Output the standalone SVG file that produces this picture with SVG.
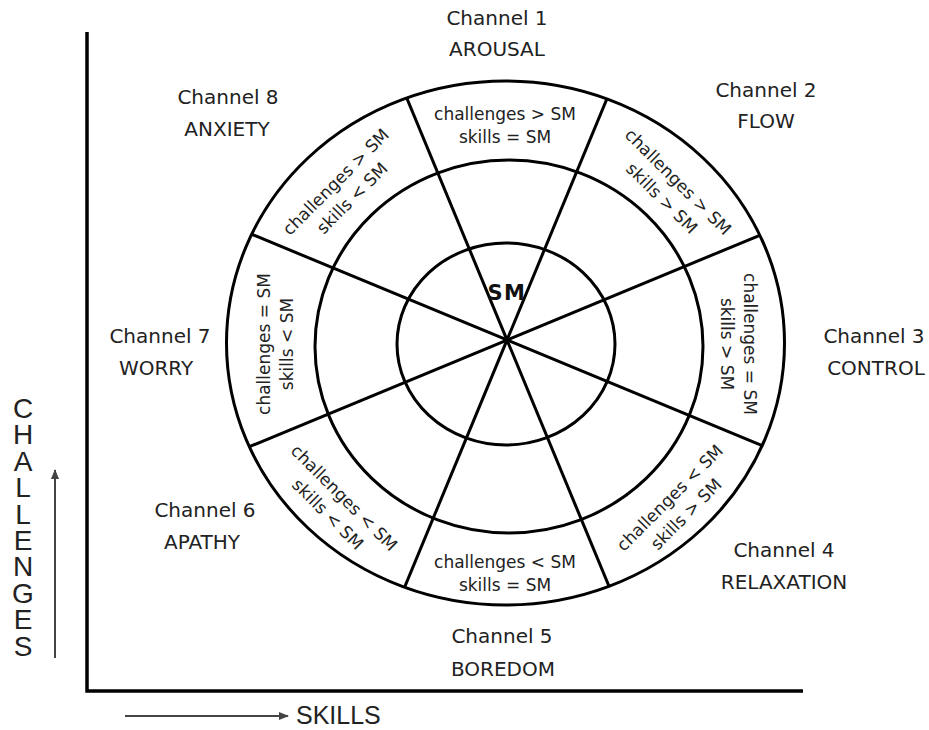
<svg xmlns="http://www.w3.org/2000/svg" width="929" height="730" viewBox="0 0 929 730">
  <style>
    .ring { fill: none; stroke: #000; stroke-width: 3; }
    .spoke { stroke: #000; stroke-width: 3; }
    .axis { fill: none; stroke: #000; stroke-width: 3.5; }
    .dir { stroke: #444; stroke-width: 2; fill: none; }
    .label { font-family: "DejaVu Sans", Verdana, sans-serif; font-size: 20px; fill: #222; text-anchor: middle; }
    .cond { font-family: "DejaVu Sans", Verdana, sans-serif; font-size: 17px; fill: #222; text-anchor: middle; }
    .axis-title { font-family: "Liberation Sans", Arial, sans-serif; fill: #222; }
    .hub { font-family: "DejaVu Sans", Verdana, sans-serif; font-size: 21px; font-weight: bold; fill: #111; text-anchor: middle; letter-spacing: 1.5px; }
  </style>
  <defs>
    <marker id="head" viewBox="0 0 10 10" refX="9" refY="5" markerWidth="5" markerHeight="5" orient="auto" markerUnits="strokeWidth">
      <path d="M0,1 L10,5 L0,9 z" fill="#444"/>
    </marker>
    <clipPath id="wheel-clip">
      <ellipse cx="505.5" cy="343" rx="279" ry="262"/>
    </clipPath>
  </defs>

  <rect width="929" height="730" fill="#fff"/>

  <!-- axes of the chart -->
  <g id="axes">
    <polyline class="axis" points="87,32 87,691 803,691"/>
    <text class="axis-title" font-size="28" text-anchor="middle" x="23 23 23 23 23 23 23 23 23 23" y="418 444.4 470.8 497.2 523.6 550 576.4 602.8 629.2 655.6">CHALLENGES</text>
    <text class="axis-title" font-size="25" x="296" y="724">SKILLS</text>
  </g>

  <!-- direction arrows beside the axis titles -->
  <g id="connectors">
    <line class="dir" x1="55" y1="658" x2="55" y2="470" marker-end="url(#head)"/>
    <line class="dir" x1="125" y1="716" x2="288" y2="716" marker-end="url(#head)"/>
  </g>

  <!-- the wheel: three rings and eight spokes -->
  <g id="wheel">
    <ellipse class="ring" cx="505.5" cy="343" rx="279" ry="262"/>
    <ellipse class="ring" cx="509" cy="346.5" rx="194" ry="186.5"/>
    <ellipse class="ring" cx="506" cy="344" rx="109" ry="101"/>
    <g clip-path="url(#wheel-clip)">
      <line class="spoke" x1="353.9" y1="709.6" x2="660.1" y2="-29.6"/>
      <line class="spoke" x1="137.4" y1="493.1" x2="876.6" y2="186.9"/>
      <line class="spoke" x1="137.4" y1="186.9" x2="876.6" y2="493.1"/>
      <line class="spoke" x1="353.9" y1="-29.6" x2="660.1" y2="709.6"/>
    </g>
  </g>

  <g id="hub">
    <text class="hub" x="507" y="300">SM</text>
  </g>

  <g id="channel-1">
    <text class="label" x="497" y="25">Channel 1</text>
    <text class="label" x="497" y="56">AROUSAL</text>
    <g transform="translate(505,120)">
      <text class="cond" x="0" y="0">challenges &gt; SM</text>
      <text class="cond" x="0" y="23">skills = SM</text>
    </g>
  </g>

  <g id="channel-2">
    <text class="label" x="766" y="97">Channel 2</text>
    <text class="label" x="766" y="128">FLOW</text>
    <g transform="translate(674,186) rotate(45)">
      <text class="cond" x="0" y="0">challenges &gt; SM</text>
      <text class="cond" x="0" y="23">skills &gt; SM</text>
    </g>
  </g>

  <g id="channel-3">
    <text class="label" x="874" y="343">Channel 3</text>
    <text class="label" x="876" y="375">CONTROL</text>
    <g transform="translate(744,344) rotate(90)">
      <text class="cond" x="0" y="0">challenges = SM</text>
      <text class="cond" x="0" y="23">skills &gt; SM</text>
    </g>
  </g>

  <g id="channel-4">
    <text class="label" x="784" y="557">Channel 4</text>
    <text class="label" x="784" y="589">RELAXATION</text>
    <g transform="translate(674,502) rotate(-45)">
      <text class="cond" x="0" y="0">challenges &lt; SM</text>
      <text class="cond" x="0" y="23">skills &gt; SM</text>
    </g>
  </g>

  <g id="channel-5">
    <text class="label" x="502" y="643">Channel 5</text>
    <text class="label" x="503" y="676">BOREDOM</text>
    <g transform="translate(505,568)">
      <text class="cond" x="0" y="0">challenges &lt; SM</text>
      <text class="cond" x="0" y="23">skills = SM</text>
    </g>
  </g>

  <g id="channel-6">
    <text class="label" x="205" y="517">Channel 6</text>
    <text class="label" x="202" y="549">APATHY</text>
    <g transform="translate(340,502) rotate(45)">
      <text class="cond" x="0" y="0">challenges &lt; SM</text>
      <text class="cond" x="0" y="23">skills &lt; SM</text>
    </g>
  </g>

  <g id="channel-7">
    <text class="label" x="160" y="343">Channel 7</text>
    <text class="label" x="156" y="375">WORRY</text>
    <g transform="translate(270,344) rotate(-90)">
      <text class="cond" x="0" y="0">challenges = SM</text>
      <text class="cond" x="0" y="23">skills &lt; SM</text>
    </g>
  </g>

  <g id="channel-8">
    <text class="label" x="228" y="104">Channel 8</text>
    <text class="label" x="227" y="136">ANXIETY</text>
    <g transform="translate(340,186) rotate(-45)">
      <text class="cond" x="0" y="0">challenges &gt; SM</text>
      <text class="cond" x="0" y="23">skills &lt; SM</text>
    </g>
  </g>
</svg>
